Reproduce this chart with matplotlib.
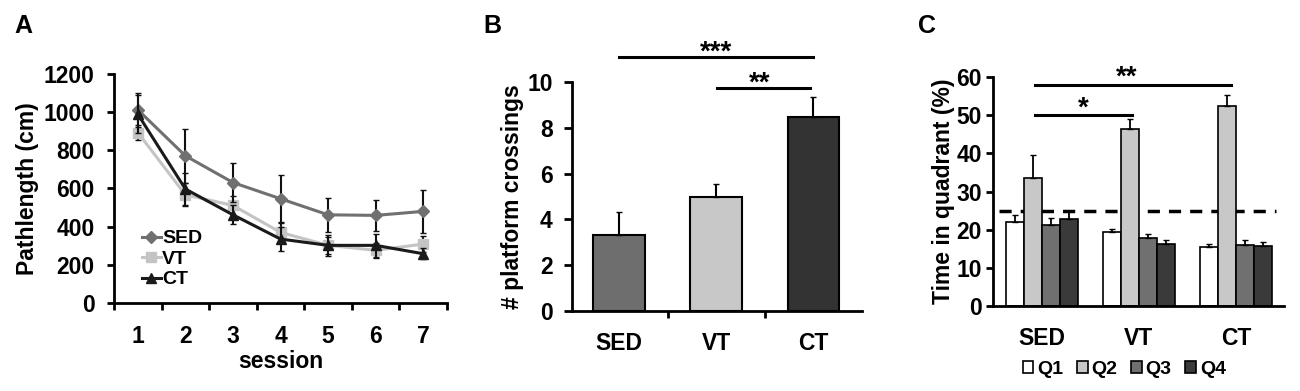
import numpy as np
import matplotlib.pyplot as plt

plt.rcParams['font.family'] = ['Liberation Sans', 'DejaVu Sans']
plt.rcParams['font.weight'] = 'bold'

# panel A: path length per session
sessions = [1, 2, 3, 4, 5, 6, 7]
sed_path = [1012, 771, 631, 546, 462, 459, 480]
sed_path_err = [90, 140, 100, 125, 90, 80, 113]
vt_path = [893, 567, 511, 370, 302, 276, 309]
vt_path_err = [40, 60, 50, 55, 45, 40, 40]
ct_path = [989, 597, 462, 335, 302, 302, 258]
ct_path_err = [100, 85, 50, 65, 55, 60, 30]

# panel B: platform crossings
groups = ['SED', 'VT', 'CT']
crossings = [3.32, 4.97, 8.46]
crossings_err = [0.99, 0.56, 0.87]

# panel C: time in quadrant (%)
quadrants = ['Q1', 'Q2', 'Q3', 'Q4']
quad_time = {
    'Q1': [22.0, 19.3, 15.5],
    'Q2': [33.5, 46.4, 52.4],
    'Q3': [21.2, 17.8, 16.1],
    'Q4': [22.7, 16.4, 15.7],
}
quad_err = {
    'Q1': [1.9, 1.0, 0.9],
    'Q2': [6.0, 2.7, 2.9],
    'Q3': [1.8, 1.0, 1.1],
    'Q4': [2.3, 0.9, 1.2],
}

fs = 16.5

fig = plt.figure(figsize=(13, 3.91), dpi=100)

def style(ax):
    for s in ['top', 'right']:
        ax.spines[s].set_visible(False)
    for s in ['left', 'bottom']:
        ax.spines[s].set_linewidth(2)

# ---------- A ----------
ax1 = fig.add_axes([0.0877, 0.225, 0.2562, 0.586])
style(ax1)
x = np.array(sessions)
series = [(sed_path, sed_path_err, '#707070', 'D', 6, 'SED', 3),
          (vt_path, vt_path_err, '#c4c4c4', 's', 7, 'VT', 2),
          (ct_path, ct_path_err, '#1a1a1a', '^', 7, 'CT', 4)]
handles = []
for vals, err, col, mk, ms, lab, z in series:
    ax1.errorbar(x, vals, yerr=err, fmt='none', ecolor='#111111',
                 elinewidth=1.5, capsize=2.5, zorder=z)
    h, = ax1.plot(x, vals, color=col, marker=mk, ms=ms, lw=2.2, label=lab, zorder=z)
    handles.append(h)
ax1.set_xlim(0.5, 7.5)
ax1.set_ylim(0, 1200)
ax1.set_yticks(range(0, 1201, 200))
ax1.set_xticks(sessions)
ax1.set_xticks(np.arange(0.5, 7.6, 1), minor=True)
ax1.tick_params(axis='x', which='major', length=0, pad=16, labelsize=fs)
ax1.tick_params(axis='x', which='minor', length=5, width=2, direction='out')
ax1.tick_params(axis='y', length=5, width=2, pad=9, labelsize=fs)
ax1.set_xlabel('session', fontsize=fs, fontweight='bold', labelpad=1)
ax1.set_ylabel('Pathlength (cm)', fontsize=fs, fontweight='bold', labelpad=3)
ax1.legend(handles=handles, loc='lower left', bbox_to_anchor=(0.06, 0.03), frameon=False,
           fontsize=14, handlelength=1.0, handletextpad=0.05, labelspacing=0.15,
           borderaxespad=0)
fig.text(0.011, 0.915, 'A', fontsize=18, fontweight='bold')

# ---------- B ----------
ax2 = fig.add_axes([0.44, 0.205, 0.223, 0.585])
style(ax2)
xb = np.arange(len(groups))
ax2.bar(xb, crossings, width=0.53, color=['#6e6e6e', '#c8c8c8', '#333333'],
        edgecolor='black', linewidth=1.5, zorder=2)
ax2.errorbar(xb, crossings, yerr=[[0, 0, 0], crossings_err], fmt='none',
             ecolor='black', elinewidth=1.5, capsize=2.5, zorder=3)
ax2.set_xlim(-0.485, 2.5)
ax2.set_ylim(0, 10)
ax2.set_yticks(range(0, 11, 2))
ax2.set_xticks(xb)
ax2.set_xticklabels(groups)
ax2.set_xticks([0.5, 1.5], minor=True)
ax2.tick_params(axis='x', which='major', length=0, pad=15, labelsize=fs)
ax2.tick_params(axis='x', which='minor', length=5, width=2, direction='out')
ax2.tick_params(axis='y', length=6, width=2, pad=8, labelsize=fs)
ax2.set_ylabel('# platform crossings', fontsize=fs, fontweight='bold', labelpad=2)
ax2.plot([0, 2], [11.09, 11.09], color='black', lw=2.2, clip_on=False)
ax2.text(1.0, 10.72, '***', ha='center', va='bottom', fontsize=20, fontweight='bold')
ax2.plot([1.01, 1.97], [9.74, 9.74], color='black', lw=2.2, clip_on=False)
ax2.text(1.45, 9.35, '**', ha='center', va='bottom', fontsize=20, fontweight='bold')
fig.text(0.372, 0.915, 'B', fontsize=18, fontweight='bold')

# ---------- C ----------
ax3 = fig.add_axes([0.764, 0.217, 0.224, 0.586])
style(ax3)
qcolors = ['#ffffff', '#c8c8c8', '#707070', '#3a3a3a']
w = 0.185
xc = np.arange(len(groups))
for i, q in enumerate(quadrants):
    pos = xc + (i - 1.5) * w
    ax3.bar(pos, quad_time[q], width=w, color=qcolors[i], edgecolor='black',
            linewidth=1.2, label=q, zorder=2)
    ax3.errorbar(pos, quad_time[q], yerr=[[0, 0, 0], quad_err[q]], fmt='none',
                 ecolor='black', elinewidth=1.3, capsize=2, zorder=3)
ax3.axhline(25, xmin=0.02, xmax=0.97, color='black', lw=2.5, ls=(0, (3.5, 2.6)), zorder=1)
ax3.set_xlim(-0.5, 2.5)
ax3.set_ylim(0, 60)
ax3.set_yticks(range(0, 61, 10))
ax3.set_xticks(xc)
ax3.set_xticklabels(groups)
ax3.tick_params(axis='x', length=0, pad=15, labelsize=fs)
ax3.tick_params(axis='y', length=5, width=2, pad=3, labelsize=fs)
ax3.set_ylabel('Time in quadrant (%)', fontsize=fs, fontweight='bold', labelpad=1)
ax3.plot([-0.07, 1.95], [58, 58], color='black', lw=2.2, clip_on=False)
ax3.text(0.88, 56.4, '**', ha='center', va='bottom', fontsize=20, fontweight='bold')
ax3.plot([-0.07, 0.93], [50.1, 50.1], color='black', lw=2.2, clip_on=False)
ax3.text(0.43, 48.4, '*', ha='center', va='bottom', fontsize=20, fontweight='bold')
ax3.legend(loc='upper center', bbox_to_anchor=(0.45, -0.205), ncol=4, frameon=False,
           fontsize=14, handlelength=0.55, handleheight=0.55, handletextpad=0.2,
           columnspacing=0.7, borderaxespad=0)
fig.text(0.706, 0.915, 'C', fontsize=18, fontweight='bold')

plt.savefig('out.png', dpi=100)
plt.close(fig)
